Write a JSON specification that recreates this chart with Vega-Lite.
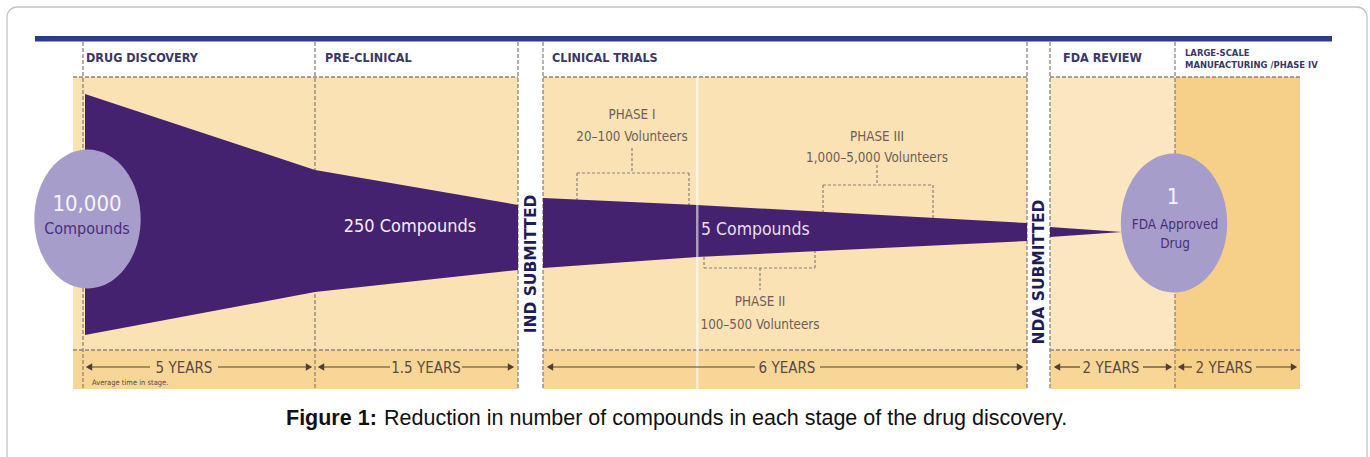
{
  "$schema": "https://vega.github.io/schema/vega-lite/v6.json",
  "width": 1370,
  "height": 457,
  "autosize": {"type": "fit", "contains": "padding"},
  "padding": 0,
  "background": "white",
  "config": {"view": {"stroke": null}},
  "encoding": {
    "x": {"field": "x", "type": "quantitative", "scale": {"domain": [0, 1370], "nice": false, "zero": false}, "axis": null},
    "y": {"field": "y", "type": "quantitative", "scale": {"domain": [0, 457], "nice": false, "zero": false, "reverse": true}, "axis": null}
  },
  "layer": [
    {
      "data": {"values": [{"x": 7, "x2": 1367, "y": 7, "y2": 490}]},
      "mark": {"type": "rect", "filled": false, "stroke": "#c4c4c4", "strokeWidth": 1.3, "cornerRadius": 10, "clip": true},
      "encoding": {"x2": {"field": "x2"}, "y2": {"field": "y2"}}
    },
    {
      "data": {"values": [
        {"x": 73, "x2": 1300, "y": 77, "y2": 389, "kind": "stage"},
        {"x": 1050, "x2": 1175, "y": 77, "y2": 350, "kind": "review"},
        {"x": 73, "x2": 1175, "y": 350, "y2": 389, "kind": "time"},
        {"x": 1175, "x2": 1300, "y": 77, "y2": 389, "kind": "launch"},
        {"x": 518, "x2": 543, "y": 42, "y2": 389, "kind": "gap"},
        {"x": 1027, "x2": 1050, "y": 42, "y2": 389, "kind": "gap"},
        {"x": 35, "x2": 1332, "y": 36, "y2": 41.5, "kind": "bar"}
      ]},
      "mark": {"type": "rect"},
      "encoding": {
        "x2": {"field": "x2"},
        "y2": {"field": "y2"},
        "fill": {"field": "kind", "type": "nominal", "legend": null,
          "scale": {"domain": ["stage", "review", "time", "launch", "gap", "bar"], "range": ["#FAE2B5", "#FBE6C2", "#F7D698", "#F6CF88", "#FFFFFF", "#2C3C87"]}}
      }
    },
    {
      "data": {"values": [
        {"x": 73, "x2": 518, "y": 77, "y2": 77},
        {"x": 543, "x2": 1027, "y": 77, "y2": 77},
        {"x": 1050, "x2": 1300, "y": 77, "y2": 77},
        {"x": 73, "x2": 518, "y": 350, "y2": 350},
        {"x": 543, "x2": 1027, "y": 350, "y2": 350},
        {"x": 1050, "x2": 1300, "y": 350, "y2": 350},
        {"x": 83, "x2": 83, "y": 42, "y2": 389},
        {"x": 315, "x2": 315, "y": 42, "y2": 389},
        {"x": 518, "x2": 518, "y": 42, "y2": 389},
        {"x": 543, "x2": 543, "y": 42, "y2": 389},
        {"x": 1027, "x2": 1027, "y": 42, "y2": 389},
        {"x": 1050, "x2": 1050, "y": 42, "y2": 389},
        {"x": 1175, "x2": 1175, "y": 42, "y2": 389}
      ]},
      "mark": {"type": "rule", "color": "#8f8577", "strokeWidth": 1.3, "strokeDash": [4, 2]},
      "encoding": {"x2": {"field": "x2"}, "y2": {"field": "y2"}}
    },
    {
      "data": {"values": [
        {"x": 632, "x2": 632, "y": 148, "y2": 173},
        {"x": 577, "x2": 689, "y": 173, "y2": 173},
        {"x": 577, "x2": 577, "y": 173, "y2": 202},
        {"x": 689, "x2": 689, "y": 173, "y2": 205},
        {"x": 877, "x2": 877, "y": 165, "y2": 185},
        {"x": 823, "x2": 933, "y": 185, "y2": 185},
        {"x": 823, "x2": 823, "y": 185, "y2": 215},
        {"x": 933, "x2": 933, "y": 185, "y2": 218},
        {"x": 760, "x2": 760, "y": 268, "y2": 290},
        {"x": 704, "x2": 815, "y": 268, "y2": 268},
        {"x": 704, "x2": 704, "y": 252, "y2": 268},
        {"x": 815, "x2": 815, "y": 250, "y2": 268}
      ]},
      "mark": {"type": "rule", "color": "#8c8078", "strokeWidth": 1.2, "strokeDash": [3, 2]},
      "encoding": {"x2": {"field": "x2"}, "y2": {"field": "y2"}}
    },
    {
      "data": {"values": [
        {"piece": "discovery", "x": 85, "y": 94, "yb": 335},
        {"piece": "discovery", "x": 315, "y": 170, "yb": 292},
        {"piece": "discovery", "x": 518, "y": 205, "yb": 270},
        {"piece": "clinical", "x": 543, "y": 198, "yb": 268},
        {"piece": "clinical", "x": 697, "y": 205, "yb": 257},
        {"piece": "clinical", "x": 1027, "y": 223, "yb": 241},
        {"piece": "review", "x": 1050, "y": 227, "yb": 237},
        {"piece": "review", "x": 1122, "y": 232, "yb": 232}
      ]},
      "mark": {"type": "area", "color": "#45226F", "opacity": 1, "interpolate": "linear", "orient": "vertical"},
      "encoding": {
        "y": {"field": "y", "type": "quantitative", "stack": null, "scale": {"domain": [0, 457], "nice": false, "zero": false, "reverse": true}, "axis": null},
        "y2": {"field": "yb"},
        "detail": {"field": "piece", "type": "nominal"}
      }
    },
    {
      "data": {"values": [{"x": 696, "x2": 698.5, "y": 77, "y2": 389}]},
      "mark": {"type": "rect", "color": "#FFFFFF", "opacity": 0.55},
      "encoding": {"x2": {"field": "x2"}, "y2": {"field": "y2"}}
    },
    {
      "data": {"values": [
        {"x": 89, "x2": 150, "y": 367, "y2": 367},
        {"x": 218, "x2": 309, "y": 367, "y2": 367},
        {"x": 321, "x2": 390, "y": 367, "y2": 367},
        {"x": 462, "x2": 511, "y": 367, "y2": 367},
        {"x": 550, "x2": 755, "y": 367, "y2": 367},
        {"x": 820, "x2": 1020, "y": 367, "y2": 367},
        {"x": 1057, "x2": 1080, "y": 367, "y2": 367},
        {"x": 1143, "x2": 1169, "y": 367, "y2": 367},
        {"x": 1181, "x2": 1192, "y": 367, "y2": 367},
        {"x": 1256, "x2": 1293, "y": 367, "y2": 367}
      ]},
      "mark": {"type": "rule", "color": "#4E4038", "strokeWidth": 1.2},
      "encoding": {"x2": {"field": "x2"}, "y2": {"field": "y2"}}
    },
    {
      "data": {"values": [
        {"x": 89, "y": 367, "dir": "left"},
        {"x": 309, "y": 367, "dir": "right"},
        {"x": 321, "y": 367, "dir": "left"},
        {"x": 511, "y": 367, "dir": "right"},
        {"x": 550, "y": 367, "dir": "left"},
        {"x": 1020, "y": 367, "dir": "right"},
        {"x": 1057, "y": 367, "dir": "left"},
        {"x": 1169, "y": 367, "dir": "right"},
        {"x": 1181, "y": 367, "dir": "left"},
        {"x": 1294, "y": 367, "dir": "right"}
      ]},
      "mark": {"type": "point", "filled": true, "color": "#4E4038", "opacity": 1, "size": 55},
      "encoding": {"shape": {"field": "dir", "type": "nominal", "legend": null, "scale": {"domain": ["left", "right"], "range": ["triangle-left", "triangle-right"]}}}
    },
    {
      "data": {"values": [{"x": 87.5, "y": 219, "label": "start"}, {"x": 1174, "y": 223, "label": "end"}]},
      "mark": {"type": "point", "filled": true, "color": "#A79DCB", "opacity": 1, "size": 19321,
        "shape": "M-0.765,0A0.765,1,0,1,0,0.765,0A0.765,1,0,1,0,-0.765,0Z"}
    },
    {
      "data": {"values": [
        {"x": 86, "y": 58, "t": "DRUG DISCOVERY"},
        {"x": 325, "y": 58, "t": "PRE-CLINICAL"},
        {"x": 552, "y": 58, "t": "CLINICAL TRIALS"},
        {"x": 1063, "y": 58, "t": "FDA REVIEW"}
      ]},
      "mark": {"type": "text", "align": "left", "baseline": "middle", "font": "DejaVu Sans Condensed, sans-serif", "fontWeight": "bold", "fontSize": 12.5, "color": "#3B3866"},
      "encoding": {"text": {"field": "t"}}
    },
    {
      "data": {"values": [
        {"x": 1185, "y": 53, "t": "LARGE-SCALE"},
        {"x": 1185, "y": 65, "t": "MANUFACTURING /PHASE IV"}
      ]},
      "mark": {"type": "text", "align": "left", "baseline": "middle", "font": "DejaVu Sans Condensed, sans-serif", "fontWeight": "bold", "fontSize": 9.4, "color": "#3B3866"},
      "encoding": {"text": {"field": "t"}}
    },
    {
      "data": {"values": [
        {"x": 530.5, "y": 264, "t": "IND SUBMITTED"},
        {"x": 1038.5, "y": 272, "t": "NDA SUBMITTED"}
      ]},
      "mark": {"type": "text", "align": "center", "baseline": "middle", "angle": 270, "font": "DejaVu Sans", "fontWeight": "bold", "fontSize": 15.5, "color": "#1F1D57"},
      "encoding": {"text": {"field": "t"}}
    },
    {
      "data": {"values": [
        {"x": 410, "y": 227, "t": "250 Compounds"}
      ]},
      "mark": {"type": "text", "align": "center", "baseline": "middle", "font": "DejaVu Sans Condensed, sans-serif", "fontSize": 18, "color": "#F2EFF8"},
      "encoding": {"text": {"field": "t"}}
    },
    {
      "data": {"values": [
        {"x": 701, "y": 230, "t": "5 Compounds"}
      ]},
      "mark": {"type": "text", "align": "left", "baseline": "middle", "font": "DejaVu Sans Condensed, sans-serif", "fontSize": 17.5, "color": "#E4DFF0"},
      "encoding": {"text": {"field": "t"}}
    },
    {
      "data": {"values": [
        {"x": 87, "y": 204, "t": "10,000"},
        {"x": 1173, "y": 197, "t": "1"}
      ]},
      "mark": {"type": "text", "align": "center", "baseline": "middle", "font": "DejaVu Sans Condensed, sans-serif", "fontSize": 22, "color": "#F6F4FB"},
      "encoding": {"text": {"field": "t"}}
    },
    {
      "data": {"values": [
        {"x": 87, "y": 229, "t": "Compounds"}
      ]},
      "mark": {"type": "text", "align": "center", "baseline": "middle", "font": "DejaVu Sans Condensed, sans-serif", "fontSize": 16, "color": "#4A2F78"},
      "encoding": {"text": {"field": "t"}}
    },
    {
      "data": {"values": [
        {"x": 1175, "y": 225, "t": "FDA Approved"},
        {"x": 1175, "y": 244, "t": "Drug"}
      ]},
      "mark": {"type": "text", "align": "center", "baseline": "middle", "font": "DejaVu Sans Condensed, sans-serif", "fontSize": 13.5, "color": "#4A2F78"},
      "encoding": {"text": {"field": "t"}}
    },
    {
      "data": {"values": [
        {"x": 632, "y": 115, "t": "PHASE I"},
        {"x": 632, "y": 137, "t": "20–100 Volunteers"},
        {"x": 877, "y": 137, "t": "PHASE III"},
        {"x": 877, "y": 158, "t": "1,000–5,000 Volunteers"},
        {"x": 760, "y": 302, "t": "PHASE II"},
        {"x": 760, "y": 325, "t": "100–500 Volunteers"}
      ]},
      "mark": {"type": "text", "align": "center", "baseline": "middle", "font": "DejaVu Sans Condensed, sans-serif", "fontSize": 13.3, "color": "#6E5E55"},
      "encoding": {"text": {"field": "t"}}
    },
    {
      "data": {"values": [
        {"x": 184, "y": 368, "t": "5 YEARS"},
        {"x": 426, "y": 368, "t": "1.5 YEARS"},
        {"x": 787, "y": 368, "t": "6 YEARS"},
        {"x": 1111, "y": 368, "t": "2 YEARS"},
        {"x": 1224, "y": 368, "t": "2 YEARS"}
      ]},
      "mark": {"type": "text", "align": "center", "baseline": "middle", "font": "DejaVu Sans Condensed, sans-serif", "fontSize": 15, "color": "#5A4A42"},
      "encoding": {"text": {"field": "t"}}
    },
    {
      "data": {"values": [{"x": 92, "y": 383, "t": "Average time in stage."}]},
      "mark": {"type": "text", "align": "left", "baseline": "middle", "font": "DejaVu Sans Condensed, sans-serif", "fontSize": 7.5, "color": "#5A4A42"},
      "encoding": {"text": {"field": "t"}}
    },
    {
      "data": {"values": [{"x": 286, "y": 419, "t": "Figure 1:"}]},
      "mark": {"type": "text", "align": "left", "baseline": "middle", "font": "Liberation Sans, Arial, sans-serif", "fontWeight": "bold", "fontSize": 21.5, "color": "#111111"},
      "encoding": {"text": {"field": "t"}}
    },
    {
      "data": {"values": [{"x": 384, "y": 419, "t": "Reduction in number of compounds in each stage of the drug discovery."}]},
      "mark": {"type": "text", "align": "left", "baseline": "middle", "font": "Liberation Sans, Arial, sans-serif", "fontSize": 21.5, "color": "#111111"},
      "encoding": {"text": {"field": "t"}}
    }
  ]
}
